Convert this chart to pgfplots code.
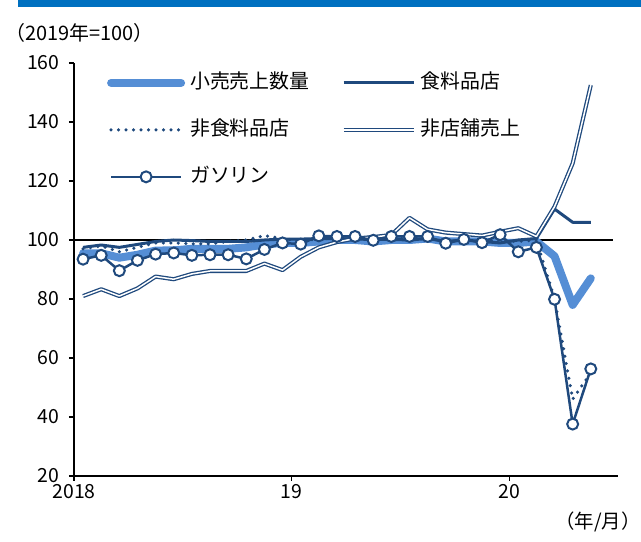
\documentclass[border=0pt]{standalone}
\usepackage{pgfplots}
\usepackage{pgfplotstable}
\pgfplotsset{compat=1.18}
\usepackage{fontspec}
\setmainfont{Noto Sans CJK JP}
\definecolor{lblue}{RGB}{85,142,213}
\definecolor{dblue}{RGB}{31,73,125}
\definecolor{barblue}{RGB}{0,112,192}

\pgfplotstableread{
x retail food nonfood nonstore gas
0.5 95.5 97.5 97 81 93.5
1.5 95.5 98.3 98 83.3 94.8
2.5 94 97.5 96 81 89.6
3.5 95 98.5 97.5 83.6 93.1
4.5 96.4 99.5 99 87.6 95.2
5.5 96.5 100 99 86.7 95.6
6.5 97 99.8 98.7 88.5 94.8
7.5 97 99.5 98.7 89.5 95.0
8.5 97 99.5 99.5 89.5 95.0
9.5 97.5 99.5 100 89.5 93.6
10.5 98.5 100 101.5 92 96.8
11.5 99 100.3 100.5 89.8 99.0
12.5 99 100.3 99.5 94.3 98.6
13.5 99.5 100.5 100.5 97.5 101.4
14.5 100 100.5 100.5 99.3 101.2
15.5 100 100.3 100.5 100.5 101.2
16.5 99.5 100.2 100 101 99.9
17.5 100 100.2 100.5 101.7 101.2
18.5 100 100 100.5 107.5 101.2
19.5 100.5 100.5 100.5 103.6 101.2
20.5 99.5 99.5 99.5 102.5 98.9
21.5 99.5 100 100 102 100.2
22.5 99.5 99.5 99.5 101.5 99.1
23.5 99 99 100 102.8 101.8
24.5 99 100 99.5 104 96.0
25.5 99.5 100.5 100 101.2 97.5
26.5 94.5 110.5 80 111.3 79.9
27.5 78 106 46 126 37.6
28.5 87 106 55 152.5 56.3
}\data

\begin{document}
\begin{tikzpicture}
\useasboundingbox (0,0) rectangle (641bp,542bp);
\fill[barblue] (18bp,535bp) rectangle (641bp,542bp);
\node[anchor=west, inner sep=0pt, font=\fontsize{20}{23}\selectfont] at (5bp,509bp) {（2019年=100）};
\node[anchor=east, inner sep=0pt, font=\fontsize{19.5}{22}\selectfont] at (641bp,20bp) {（年/月）};
\begin{axis}[
  at={(74bp,66bp)}, anchor=south west,
  scale only axis, width=544bp, height=413bp,
  xmin=0, xmax=30, ymin=20, ymax=160,
  axis lines=left,
  axis line style={-, line width=1.3bp, black},
  every outer x axis line/.append style={-},
  every outer y axis line/.append style={-},
  xtick={0,12,24}, xticklabels={2018,19,20},
  ytick={20,40,...,160},
  tick align=outside, major tick length=5bp,
  tick style={black, line width=1.2bp},
  /pgf/number format/assume math mode=true,
  tick label style={font=\fontsize{19.5}{22}\selectfont},
  yticklabel style={xshift=-6bp},
  legend columns=2,
  legend cell align=left,
  legend style={at={(0.055,0.985)}, anchor=north west, draw=none, fill=none,
    font=\fontsize{20}{23}\selectfont, row sep=24bp, column sep=3bp,
    nodes={text height=15bp, text depth=4bp},
    /tikz/every even column/.append style={column sep=30bp}},
  legend image code/.code={\draw[mark repeat=2,mark phase=2,#1] plot coordinates {(0bp,0bp) (35bp,0bp) (70bp,0bp)};},
]
\addplot[black, line width=1.6bp, forget plot] coordinates {(0,100) (29.7,100)};
\addplot[lblue, line width=8bp, line join=round, line cap=round] table[x=x,y=retail]{\data};
\addlegendentry{小売売上数量}
\addplot[dblue, line width=3bp, line join=round] table[x=x,y=food]{\data};
\addlegendentry{食料品店}
\addplot[dblue, line width=3.5bp, line cap=round, dash pattern=on 0bp off 7.5bp] table[x=x,y=nonfood]{\data};
\addlegendentry{非食料品店}
\addplot[draw=dblue, double=white, line width=1.3bp, double distance=1.5bp, line join=round] table[x=x,y=nonstore]{\data};
\addlegendentry{非店舗売上}
\addplot[dblue, line width=2.5bp, mark=*, mark size=5.5bp, mark options={fill=white, draw=dblue, line width=2bp, solid}] table[x=x,y=gas]{\data};
\addlegendentry{ガソリン}
\end{axis}
\end{tikzpicture}
\end{document}
